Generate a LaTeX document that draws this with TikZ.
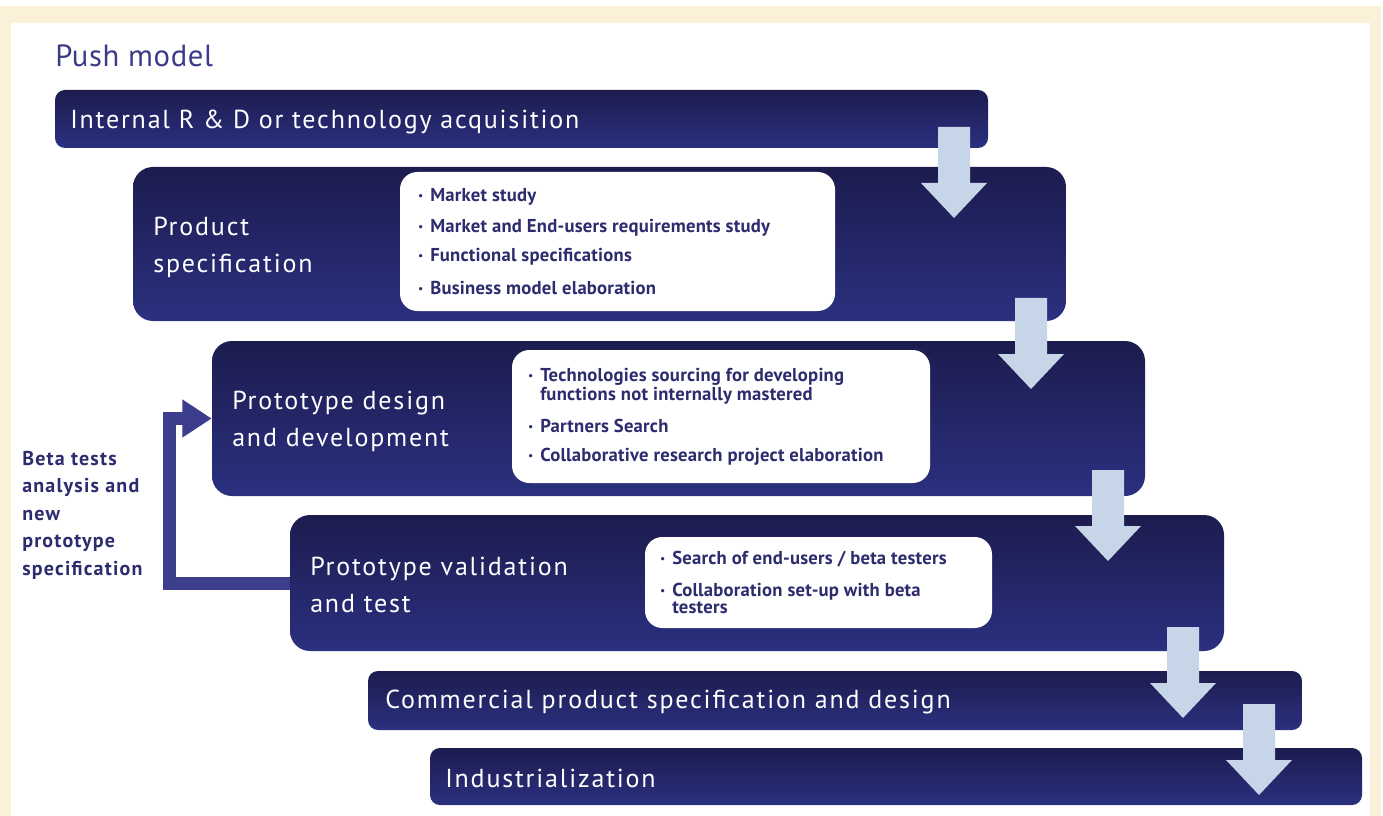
\documentclass[tikz,border=0pt]{standalone}
\usepackage{fontspec}
\setmainfont{PT Sans}
\newfontfamily\headfont[LetterSpace=7]{PT Sans}
\newfontfamily\titlefont[LetterSpace=2]{PT Sans}
\newfontfamily\itemfont[LetterSpace=1.2]{PT Sans Bold}
\newfontfamily\notefont[LetterSpace=6]{PT Sans Bold}
\usetikzlibrary{fit,arrows.meta}
\definecolor{cream}{HTML}{FBF1D8}
\definecolor{boxtop}{HTML}{1C1C4E}
\definecolor{boxbot}{HTML}{2B3080}
\definecolor{arrowblue}{HTML}{C6D6E8}
\definecolor{fbcol}{HTML}{3D3D8E}
\definecolor{textdark}{HTML}{2C2C6E}
\definecolor{titlecol}{HTML}{3B3B8A}
\newcommand{\bul}{\makebox[9pt][l]{\fontsize{8}{8}\selectfont\raisebox{0.35ex}{•}}}
\newcommand{\dnarrow}[2]{\fill[down] (#1,#2) -- ++(32,0) -- ++(0,56) -- ++(17,0) -- ++(-33,35) -- ++(-33,-35) -- ++(17,0) -- cycle;}
\tikzset{
 stage/.style={inner sep=0pt, draw=none, top color=boxtop, bottom color=boxbot},
 bar/.style={stage, rounded corners=7.5pt},
 bigbox/.style={stage, rounded corners=15pt},
 listbox/.style={fill=white, draw=none, inner sep=0pt, rounded corners=13pt},
 head/.style={text=white, font=\headfont\fontsize{19.5}{27.75}\selectfont, anchor=west, inner sep=0pt, align=left},
 item/.style={text=textdark, font=\itemfont\fontsize{14}{12.8}\selectfont, anchor=west, inner sep=0pt, align=left},
 down/.style={fill=arrowblue},
 fb/.style={draw=fbcol, line width=9.75pt, line join=miter, -{Triangle[width=27pt,length=22pt]}},
 note/.style={text=textdark, font=\notefont\fontsize{15}{20.6}\selectfont, align=left, anchor=north west, inner sep=0pt},
 title/.style={text=titlecol, font=\titlefont\fontsize{23}{28}\selectfont, anchor=west, inner sep=0pt}
}
\begin{document}
\begin{tikzpicture}[x=0.75pt,y=-0.75pt]
\useasboundingbox (0,0) rectangle (1383,816);
\fill[white] (0,0) rectangle (1383,816);
\fill[cream] (0,6) rectangle (1381,816);
\fill[white] (11,23) rectangle (1370,816);

\node[title] (title) at (55,56) {Push model};

% stage boxes
\node[bar, fit={(55,90) (988,148)}] (b1) {};
\node[bigbox, fit={(133,167) (1066,321)}] (b2) {};
\node[bigbox, fit={(212,341) (1145,496)}] (b3) {};
\node[bigbox, fit={(290,515) (1224,651)}] (b4) {};
\node[bar, fit={(368,671) (1302,730)}] (b5) {};
\node[bar, fit={(430,748) (1362,805)}] (b6) {};

% white lists
\node[listbox, fit={(400,172) (835,311)}] (l2) {};
\node[listbox, fit={(512,350) (930,483)}] (l3) {};
\node[listbox, fit={(645,537) (992,628)}] (l4) {};

% headings
\node[head] (h1) at (70,122) {Internal R \& D or technology acquisition};
\node[head] (h2) at (153,247) {Product\\specification};
\node[head] (h3) at (232,421) {Prototype design\\and development};
\node[head] (h4) at (310,585) {Prototype validation\\and test};
\node[head] (h5) at (385,702) {Commercial product specification and design};
\node[head] (h6) at (445,778) {Industrialization};

% bullet items
\node[item] (i21) at (418,197) {\bul Market study};
\node[item] (i22) at (418,228) {\bul Market and End-users requirements study};
\node[item] (i23) at (418,257) {\bul Functional specifications};
\node[item] (i24) at (418,288) {\bul Business model elaboration};

\node[item] (i31) at (528,386) {\bul Technologies sourcing for developing\\\hspace*{9pt}functions not internally mastered};
\node[item] (i32) at (528,426) {\bul Partners Search};
\node[item] (i33) at (528,457) {\bul Collaborative research project elaboration};

\node[item] (i41) at (660,559) {\bul Search of end-users / beta testers};
\node[item] (i42) at (660,598) {\bul Collaboration set-up with beta\\\hspace*{9pt}testers};

% down arrows
\dnarrow{938}{127}
\dnarrow{1015}{298}
\dnarrow{1092}{470}
\dnarrow{1167}{627}
\dnarrow{1243}{704}

% feedback loop
\draw[fb] (b4.west) -- ++(-120,0) |- (b3.west);
\node[note] (beta) at (22,451) {Beta tests\\analysis and\\new\\prototype\\specification};
\end{tikzpicture}
\end{document}
